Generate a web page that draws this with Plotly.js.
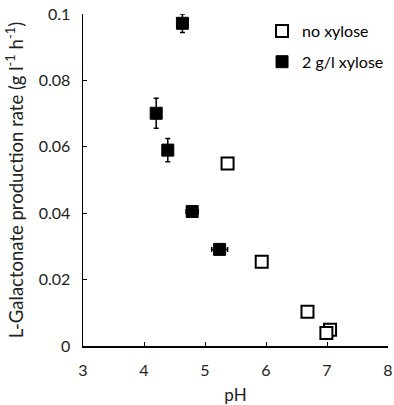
<!DOCTYPE html>
<html>
<head>
<meta charset="utf-8">
<script src="https://cdn.plot.ly/plotly-3.0.1.min.js"></script>
<style>html,body{margin:0;padding:0;background:#fff}</style>
</head>
<body>
<div id="chart" style="width:394px;height:405px"></div>
<script>
// no xylose
const phNoXyl = [5.37, 5.93, 6.68, 7.05, 6.99];
const rateNoXyl = [0.0550, 0.0254, 0.0103, 0.0049, 0.0039];

// 2 g/l xylose
const phXyl = [4.63, 4.20, 4.39, 4.79, 5.24];
const rateXyl = [0.0972, 0.0701, 0.0590, 0.0405, 0.0291];
const rateXylErr = [0.0028, 0.0045, 0.0035, 0.0012, 0.0008];
const phXylErr = [0.02, 0.02, 0.02, 0.10, 0.13];

const xTicks = [3, 4, 5, 6, 7, 8];
const yTicks = [0, 0.02, 0.04, 0.06, 0.08, 0.1];
const yTickText = ['0', '0.02', '0.04', '0.06', '0.08', '0.1'];

const font = 'Lato, "Open Sans", sans-serif';

const traces = [
  {
    x: phNoXyl, y: rateNoXyl, type: 'scatter', mode: 'markers',
    name: 'no xylose', legendgroup: 'a',
    marker: {symbol: 'square', size: 12, color: '#ffffff', line: {color: '#000000', width: 2}}
  },
  {
    x: phXyl, y: rateXyl, type: 'scatter', mode: 'markers',
    name: '2 g/l xylose', legendgroup: 'b',
    error_y: {type: 'data', array: rateXylErr, visible: true, color: '#000', thickness: 1.5, width: 2.5},
    error_x: {type: 'data', array: phXylErr, visible: true, color: '#000', thickness: 1.5, width: 2.5},
    marker: {symbol: 'square', size: 12, color: '#000000', line: {color: '#000000', width: 1}}
  }
];

const layout = {
  width: 394, height: 405,
  margin: {l: 83, r: 6, t: 14, b: 59, autoexpand: false},
  paper_bgcolor: '#fff', plot_bgcolor: '#fff',
  font: {family: font, size: 16, color: '#222'},
  showlegend: true,
  legend: {x: 0.587, y: 1.0, xanchor: 'left', yanchor: 'top', bgcolor: 'rgba(0,0,0,0)',
           font: {family: font, size: 16, color: '#000'}, traceorder: 'grouped', tracegroupgap: 7},
  xaxis: {
    range: [3, 8], tickmode: 'array', tickvals: xTicks, automargin: false,
    showline: true, linecolor: '#000', linewidth: 1.5, mirror: false,
    showgrid: false, zeroline: false,
    ticks: 'inside', ticklen: 4, tickwidth: 1, tickcolor: '#000',
    ticklabelstandoff: 9,
    tickfont: {family: font, size: 16, color: '#222'},
    title: {text: 'pH', font: {family: font, size: 17, color: '#222'}, standoff: 12}
  },
  yaxis: {
    range: [0, 0.1], tickmode: 'array', tickvals: yTicks, ticktext: yTickText, automargin: false,
    showline: true, linecolor: '#000', linewidth: 1.5, mirror: false,
    showgrid: false, zeroline: false,
    ticks: 'inside', ticklen: 4, tickwidth: 1, tickcolor: '#000',
    ticklabelstandoff: 8,
    tickfont: {family: font, size: 16, color: '#222'},
    title: {text: 'L-Galactonate production rate (g l<sup>-1</sup> h<sup>-1</sup>)', font: {family: font, size: 18.5, color: '#222'}, standoff: 10}
  }
};

Plotly.newPlot('chart', traces, layout, {displayModeBar: false, staticPlot: true});
</script>
</body>
</html>
